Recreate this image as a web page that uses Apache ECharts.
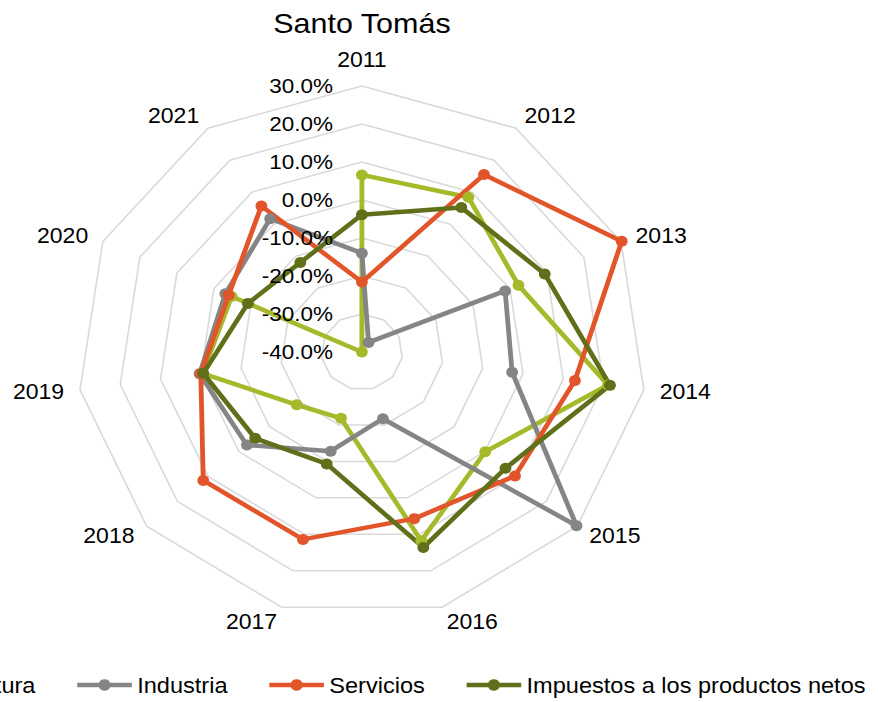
<!DOCTYPE html>
<html>
<head>
<meta charset="utf-8">
<title>Santo Tomás</title>
<script src="https://cdn.jsdelivr.net/npm/echarts@6/dist/echarts.min.js"></script>
<style>
  html, body { margin: 0; padding: 0; background: #fff; overflow: hidden; }
  /* the original picture is a little wider than tall, so stretch it the same way */
  #chart { width: 820px; height: 702px; transform: scaleX(1.0707); transform-origin: 0 0; }
</style>
</head>
<body>
<div id="chart"></div>
<script>
const years = ['2011', '2012', '2013', '2014', '2015', '2016', '2017', '2018', '2019', '2020', '2021'];

// variación anual (%)
const agricultura = [6.6, 8.4, 2.3, 21.1, 0.1, 11.8, -21.8, -18.8, -0.4, -4.8, -40.0];
const industria = [-14.0, -37.0, -1.3, -2.7, 29.8, -21.7, -12.8, -2.6, 0.3, -3.1, 1.7];
const servicios = [-21.6, 15.5, 30.2, 12.9, 9.8, 5.7, 11.4, 11.6, 0.0, -4.0, 5.7];
const impuestos = [-3.9, 5.2, 9.4, 21.6, 6.7, 13.6, -9.3, -5.3, -0.6, -9.2, -12.0];

const seriesNames = ['Agricultura', 'Industria', 'Servicios', 'Impuestos a los productos netos'];
const seriesColors = ['#a6b92a', '#858585', '#e2552a', '#606f19'];

const axisMin = -40;
const axisMax = 30;
const axisStep = 10;

const font = "'Liberation Sans', Arial, sans-serif";

// echarts radar goes counter-clockwise, the original goes clockwise
const order = years.map((y, i) => (i === 0 ? 0 : years.length - i));
const reorder = arr => order.map(i => arr[i]);

const legendIcon = 'path://M0,4.2H20.2A5.8,5.8 0 0 1 30.8,4.2H51V8.8H30.8A5.8,5.8 0 0 1 20.2,8.8H0Z';

const chart = echarts.init(document.getElementById('chart'), null, { renderer: 'svg' });

const option = {
  backgroundColor: '#fff',
  animation: false,
  title: {
    text: 'Santo Tomás',
    left: 333,
    top: 3,
    textAlign: 'center',
    textStyle: { fontFamily: font, fontSize: 28.5, fontWeight: 'normal', color: '#000' }
  },
  legend: {
    data: seriesNames,
    left: -133,
    top: 669,
    width: 1100,
    itemGap: 39,
    itemWidth: 51,
    itemHeight: 13,
    icon: legendIcon,
    textStyle: { fontFamily: font, fontSize: 22, color: '#000' }
  },
  radar: {
    center: [338, 352],
    radius: 266,
    startAngle: 90,
    splitNumber: 7,
    shape: 'polygon',
    axisNameGap: 15,
    indicator: reorder(years).map(y => ({ name: y, min: axisMin, max: axisMax })),
    axisName: { color: '#000', fontFamily: font, fontSize: 21.5 },
    axisLine: { show: false },
    axisTick: { show: false },
    splitLine: { lineStyle: { color: '#d9d9d9', width: 1.5 } },
    splitArea: { show: false }
  },
  // only used to write the value labels along the 2011 spoke
  polar: {
    center: [338, 352],
    radius: 266
  },
  angleAxis: {
    show: false,
    startAngle: 90,
    min: 0,
    max: 360
  },
  radiusAxis: {
    min: axisMin,
    max: axisMax,
    interval: axisStep,
    z: 10,
    axisLine: { show: false },
    axisTick: { show: false },
    splitLine: { show: false },
    axisLabel: {
      margin: 27,
      fontFamily: font,
      fontSize: 21,
      color: '#000',
      formatter: v => v.toFixed(1) + '%'
    }
  },
  series: [{
    type: 'radar',
    symbol: 'circle',
    symbolSize: 11,
    lineStyle: { width: 4.5 },
    data: [agricultura, industria, servicios, impuestos].map((vals, k) => ({
      name: seriesNames[k],
      value: reorder(vals),
      itemStyle: { color: seriesColors[k] },
      lineStyle: { color: seriesColors[k], width: 4.5 }
    }))
  }]
};

chart.setOption(option);
</script>
</body>
</html>
